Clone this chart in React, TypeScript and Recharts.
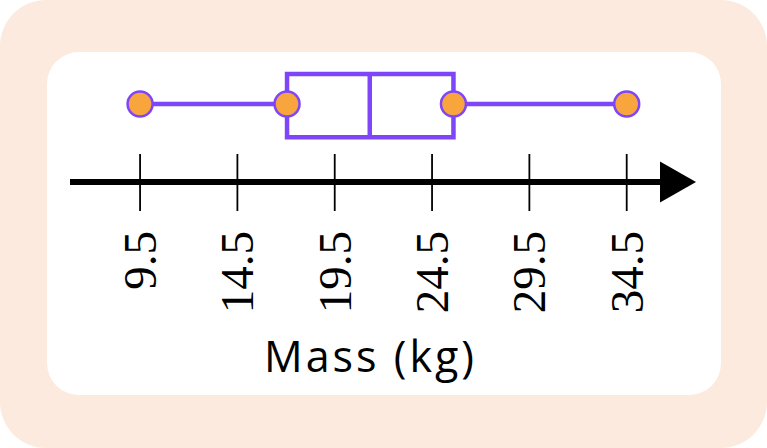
import { ComposedChart, XAxis, YAxis, Scatter, ReferenceArea, ReferenceLine } from 'recharts';

// five-number summary
const minValue = 9.5;
const q1Value = 17.05;
const medianValue = 21.3;
const q3Value = 25.6;
const maxValue = 34.5;

const tickValues = [9.5, 14.5, 19.5, 24.5, 29.5, 34.5];
const axisLabel = 'Mass (kg)';

const PURPLE = '#7E45F9';
const ORANGE = '#F8A53E';
const PEACH = '#FCEADF';

// x domain chosen so the number line runs from the left edge to the arrow tip
const X_DOMAIN: [number, number] = [5.9, 38.06];
const WHISKER_Y = 6;
const BOX_LOW = 3.45;
const BOX_HIGH = 8.3;

const pointData = [minValue, q1Value, q3Value, maxValue].map((x) => ({ x, y: WHISKER_Y }));
const arrowData = [{ x: X_DOMAIN[1], y: 0 }];

const Dot = (props: any) => (
    <circle cx={props.cx} cy={props.cy} r={12.5} fill={ORANGE} stroke={PURPLE} strokeWidth={2.5} />
);

const Arrow = (props: any) => {
    const { cx, cy } = props;
    return <polygon points={`${cx},${cy} ${cx - 36},${cy - 20.5} ${cx - 36},${cy + 20.5}`} fill="#000" />;
};

const Tick = (props: any) => {
    const { x, y, payload } = props;
    return (
        <g>
            <line x1={x} x2={x} y1={y - 28} y2={y + 29} stroke="#000" strokeWidth={1.8} />
            {/* labels read bottom-to-top */}
            <g transform={`translate(${x}, ${y + 49}) rotate(-90)`}>
                <text x={0} y={0} dy="0.34em" textAnchor="end" fontFamily="Liberation Serif" fontSize={47} fill="#000">
                    {payload.value}
                </text>
            </g>
        </g>
    );
};

export default function App() {
    return (
        <div style={{ position: 'absolute', left: 0, top: 0, width: 767, height: 448, background: PEACH, borderRadius: 46 }}>
            <div style={{ position: 'absolute', left: 47, top: 52, width: 674, height: 343, background: '#fff', borderRadius: 32 }} />
            <div style={{ position: 'absolute', left: 0, top: 0 }}>
                <ComposedChart width={767} height={448} margin={{ top: 52, right: 71, left: 70, bottom: 166 }}>
                    <XAxis
                        type="number"
                        dataKey="x"
                        domain={X_DOMAIN}
                        ticks={tickValues}
                        axisLine={false}
                        tickLine={false}
                        tickSize={0}
                        tickMargin={0}
                        height={100}
                        interval={0}
                        tick={(p: any) => <Tick {...p} />}
                    />
                    <YAxis type="number" dataKey="y" domain={[0, 10]} hide />
                    <ReferenceLine
                        segment={[{ x: X_DOMAIN[0], y: 0 }, { x: 36.5, y: 0 }]}
                        stroke="#000"
                        strokeWidth={6}
                    />
                    <ReferenceLine
                        segment={[{ x: minValue, y: WHISKER_Y }, { x: q1Value, y: WHISKER_Y }]}
                        stroke={PURPLE}
                        strokeWidth={4.5}
                    />
                    <ReferenceLine
                        segment={[{ x: q3Value, y: WHISKER_Y }, { x: maxValue, y: WHISKER_Y }]}
                        stroke={PURPLE}
                        strokeWidth={4.5}
                    />
                    <ReferenceArea
                        x1={q1Value}
                        x2={q3Value}
                        y1={BOX_LOW}
                        y2={BOX_HIGH}
                        fill="#fff"
                        fillOpacity={1}
                        stroke={PURPLE}
                        strokeWidth={4.5}
                    />
                    <ReferenceLine
                        segment={[{ x: medianValue, y: BOX_LOW }, { x: medianValue, y: BOX_HIGH }]}
                        stroke={PURPLE}
                        strokeWidth={4.5}
                    />
                    <Scatter data={pointData} shape={<Dot />} isAnimationActive={false} />
                    <Scatter data={arrowData} shape={<Arrow />} isAnimationActive={false} />
                </ComposedChart>
            </div>
            <div
                style={{
                    position: 'absolute',
                    left: 0,
                    width: 741,
                    top: 326,
                    textAlign: 'center',
                    fontFamily: "'Open Sans', sans-serif",
                    fontWeight: 500,
                    fontSize: 43,
                    letterSpacing: 3,
                    color: '#000',
                }}
            >
                {axisLabel}
            </div>
        </div>
    );
}
